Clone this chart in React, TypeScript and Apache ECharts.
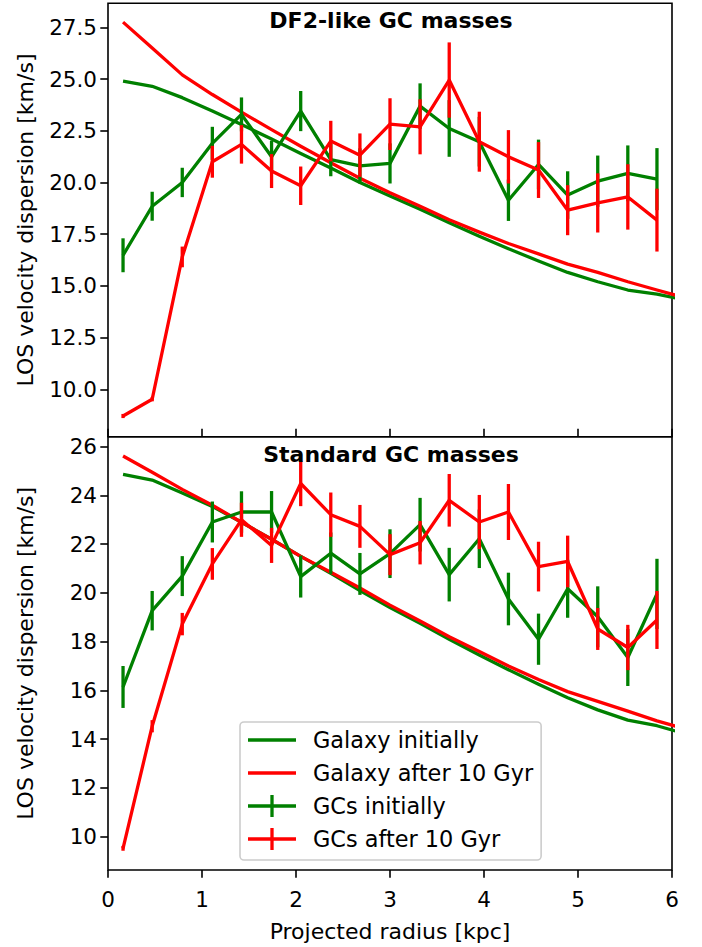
import React, { useEffect, useRef } from "react";
import * as echarts from "echarts";

const FONT = "DejaVu Sans";
const GREEN = "#008000";
const RED = "#ff0000";

// Radii of the GC bins [kpc]
const binRadii = [0.16, 0.47, 0.79, 1.11, 1.42, 1.74, 2.05, 2.37, 2.68, 3.0, 3.32, 3.63, 3.95, 4.26, 4.58, 4.89, 5.21, 5.53, 5.84];
// Radii of the galaxy profile points [kpc]
const galaxyRadii = [0.16, 0.47, 0.79, 1.11, 1.42, 1.74, 2.05, 2.37, 2.68, 3.0, 3.32, 3.63, 3.95, 4.26, 4.58, 4.89, 5.21, 5.53, 5.84, 6.16];

// Top panel: DF2-like GC masses
const topGalaxyInitial = [24.9, 24.65, 24.1, 23.45, 22.8, 22.1, 21.4, 20.7, 20.0, 19.35, 18.7, 18.05, 17.4, 16.8, 16.2, 15.65, 15.2, 14.8, 14.6, 14.3];
const topGalaxyAfter = [27.75, 26.5, 25.2, 24.25, 23.4, 22.55, 21.75, 20.95, 20.2, 19.5, 18.85, 18.2, 17.6, 17.05, 16.55, 16.05, 15.65, 15.2, 14.8, 14.4];
const topGCInitial = [16.48, 18.85, 20.0, 21.89, 23.29, 21.24, 23.45, 21.1, 20.8, 20.92, 23.69, 22.61, 21.97, 19.14, 20.87, 19.39, 20.06, 20.44, 20.16];
const topGCInitialErr = [0.82, 0.7, 0.71, 0.8, 0.82, 0.78, 0.97, 0.8, 0.85, 0.97, 1.1, 1.37, 1.2, 1.0, 1.2, 1.15, 1.24, 1.35, 1.5];
const topGCAfter = [8.71, 9.52, 16.4, 21.0, 21.84, 20.55, 19.84, 22.0, 21.32, 22.82, 22.69, 24.95, 21.97, 21.24, 20.6, 18.66, 19.01, 19.3, 18.18];
const topGCAfterErr = [0.1, 0.1, 0.5, 0.77, 0.93, 0.82, 0.93, 0.98, 1.05, 1.25, 1.33, 1.82, 1.45, 1.29, 1.35, 1.21, 1.43, 1.58, 1.52];

// Bottom panel: standard GC masses
const bottomGalaxyInitial = [24.86, 24.63, 24.1, 23.55, 22.9, 22.2, 21.5, 20.8, 20.1, 19.4, 18.75, 18.1, 17.45, 16.85, 16.25, 15.7, 15.2, 14.78, 14.55, 14.2];
const bottomGalaxyAfter = [25.62, 24.95, 24.25, 23.6, 22.9, 22.2, 21.5, 20.85, 20.2, 19.5, 18.85, 18.2, 17.6, 17.0, 16.45, 15.95, 15.55, 15.15, 14.75, 14.4];
const bottomGCInitial = [16.14, 19.27, 20.69, 22.91, 23.32, 23.32, 20.67, 21.63, 20.78, 21.61, 22.8, 20.75, 22.22, 19.75, 18.1, 20.17, 19.02, 17.35, 19.96];
const bottomGCInitialErr = [0.86, 0.81, 0.82, 0.84, 0.85, 0.86, 0.86, 0.85, 0.86, 1.0, 1.1, 1.1, 1.2, 1.08, 1.05, 1.19, 1.25, 1.17, 1.44];
const bottomGCAfter = [9.52, 14.53, 18.72, 21.19, 23.0, 21.95, 24.49, 23.21, 22.73, 21.57, 22.06, 23.8, 22.91, 23.32, 21.08, 21.29, 18.52, 17.76, 18.89];
const bottomGCAfterErr = [0.1, 0.25, 0.46, 0.65, 0.7, 0.72, 0.93, 0.91, 0.88, 0.84, 0.89, 1.08, 1.11, 1.15, 1.02, 1.06, 0.86, 0.93, 1.19];

// Axes
const xTicks = [0, 1, 2, 3, 4, 5, 6];
const xRange = [0, 6];
const topYTicks = [10, 12.5, 15, 17.5, 20, 22.5, 25, 27.5];
const topYRange = [7.71, 28.66];
const bottomYTicks = [10, 12, 14, 16, 18, 20, 22, 24, 26];
const bottomYRange = [8.63, 26.41];

const titles = ["DF2-like GC masses", "Standard GC masses"];
const legendNames = ["Galaxy initially", "Galaxy after 10 Gyr", "GCs initially", "GCs after 10 Gyr"];
const yName = "LOS velocity dispersion [km/s]";
const xName = "Projected radius [kpc]";

const LW = 3.3;
const AX = 1.6;
const LINE_ICON = "path://M0,0M0,9.35h48v3.3h-48zM48,22";
const ERR_ICON = "path://M0,9.35h48v3.3h-48zM22.35,0h3.3v22h-3.3z";

function lineSeries(name: string, xs: number[], ys: number[], color: string, g: number, z: number) {
  return {
    type: "line",
    name,
    xAxisIndex: g,
    yAxisIndex: g,
    data: xs.map((x, i) => [x, ys[i]]),
    showSymbol: false,
    symbol: "none",
    color,
    itemStyle: { color },
    lineStyle: { color, width: LW, join: "round" },
    clip: true,
    silent: true,
    z,
  };
}

function errSeries(name: string, xs: number[], ys: number[], errs: number[], color: string, g: number, z: number) {
  return {
    type: "custom",
    name,
    xAxisIndex: g,
    yAxisIndex: g,
    data: xs.map((x, i) => [x, ys[i], errs[i]]),
    encode: { x: 0, y: 1 },
    color,
    itemStyle: { color },
    silent: true,
    z,
    renderItem: (_params: any, api: any) => {
      const x = api.value(0);
      const y = api.value(1);
      const e = api.value(2);
      const p1 = api.coord([x, y + e]);
      const p2 = api.coord([x, y - e]);
      return {
        type: "line",
        shape: { x1: p1[0], y1: p1[1], x2: p2[0], y2: p2[1] },
        style: { stroke: color, lineWidth: LW },
      };
    },
  };
}

function yAxis(g: number, range: number[], ticks: number[], fmt: (v: number) => string) {
  return {
    type: "value",
    gridIndex: g,
    min: range[0],
    max: range[1],
    axisLine: { show: false },
    splitLine: { show: false },
    axisTick: { show: true, length: 7.7, lineStyle: { color: "#000", width: AX }, customValues: ticks },
    axisLabel: {
      customValues: ticks,
      formatter: fmt,
      fontFamily: FONT,
      fontSize: 21.5,
      color: "#000",
      margin: 11,
    },
    name: yName,
    nameLocation: "middle",
    nameGap: 72,
    nameTextStyle: { fontFamily: FONT, fontSize: 22, color: "#000" },
  };
}

export default function App() {
  const ref = useRef<HTMLDivElement>(null);
  useEffect(() => {
    if (!ref.current) return;
    const chart = echarts.init(ref.current, null, { renderer: "svg" });
    const gridCommon = {
      left: 108,
      width: 564,
      show: true,
      borderColor: "#000",
      borderWidth: AX,
      backgroundColor: "transparent",
      containLabel: false,
      outerBoundsMode: "none",
    };
    const titleStyle = { fontFamily: FONT, fontSize: 22, fontWeight: "bold", color: "#000" };
    const option: any = {
      animation: false,
      backgroundColor: "#fff",
      textStyle: { fontFamily: FONT },
      title: [
        { text: titles[0], left: 386, top: 4.8, textAlign: "center", textStyle: titleStyle },
        { text: titles[1], left: 386, top: 438.5, textAlign: "center", textStyle: titleStyle },
      ],
      grid: [
        { ...gridCommon, top: 3.3, height: 433.4 },
        { ...gridCommon, top: 436.7, height: 433.3 },
      ],
      xAxis: [
        {
          type: "value",
          gridIndex: 0,
          min: xRange[0],
          max: xRange[1],
          axisLine: { show: false },
          splitLine: { show: false },
          axisTick: { show: true, inside: true, length: 8, lineStyle: { color: "#000", width: AX }, customValues: xTicks },
          axisLabel: { show: false },
        },
        {
          type: "value",
          gridIndex: 1,
          min: xRange[0],
          max: xRange[1],
          axisLine: { show: false },
          splitLine: { show: false },
          axisTick: { show: true, length: 7.7, lineStyle: { color: "#000", width: AX }, customValues: xTicks },
          axisLabel: {
            customValues: xTicks,
            fontFamily: FONT,
            fontSize: 21.5,
            color: "#000",
            margin: 18,
          },
          name: xName,
          nameLocation: "middle",
          nameGap: 50,
          nameTextStyle: { fontFamily: FONT, fontSize: 22, color: "#000" },
        },
      ],
      yAxis: [
        yAxis(0, topYRange, topYTicks, (v: number) => v.toFixed(1)),
        yAxis(1, bottomYRange, bottomYTicks, (v: number) => String(v)),
      ],
      legend: {
        orient: "vertical",
        left: 240,
        top: 722,
        padding: [7, 8, 10, 8],
        itemGap: 11,
        itemWidth: 48,
        itemHeight: 22,
        selectedMode: false,
        backgroundColor: "#fff",
        borderColor: "#cccccc",
        borderWidth: 1.6,
        borderRadius: 4,
        textStyle: { fontFamily: FONT, fontSize: 22.4, color: "#000", padding: [0, 0, 0, 12] },
        data: [
          { name: legendNames[0], icon: LINE_ICON, itemStyle: { color: GREEN, borderWidth: 0 } },
          { name: legendNames[1], icon: LINE_ICON, itemStyle: { color: RED, borderWidth: 0 } },
          { name: legendNames[2], icon: ERR_ICON, itemStyle: { color: GREEN, borderWidth: 0 } },
          { name: legendNames[3], icon: ERR_ICON, itemStyle: { color: RED, borderWidth: 0 } },
        ],
        z: 20,
      },
      series: [
        lineSeries(legendNames[0], galaxyRadii, topGalaxyInitial, GREEN, 0, 2),
        lineSeries(legendNames[1], galaxyRadii, topGalaxyAfter, RED, 0, 3),
        lineSeries(legendNames[2], binRadii, topGCInitial, GREEN, 0, 4),
        errSeries(legendNames[2], binRadii, topGCInitial, topGCInitialErr, GREEN, 0, 4),
        lineSeries(legendNames[3], binRadii, topGCAfter, RED, 0, 5),
        errSeries(legendNames[3], binRadii, topGCAfter, topGCAfterErr, RED, 0, 5),

        lineSeries(legendNames[0], galaxyRadii, bottomGalaxyInitial, GREEN, 1, 2),
        lineSeries(legendNames[1], galaxyRadii, bottomGalaxyAfter, RED, 1, 3),
        lineSeries(legendNames[2], binRadii, bottomGCInitial, GREEN, 1, 4),
        errSeries(legendNames[2], binRadii, bottomGCInitial, bottomGCInitialErr, GREEN, 1, 4),
        lineSeries(legendNames[3], binRadii, bottomGCAfter, RED, 1, 5),
        errSeries(legendNames[3], binRadii, bottomGCAfter, bottomGCAfterErr, RED, 1, 5),
      ],
    };
    chart.setOption(option);
    return () => chart.dispose();
  }, []);
  return (
    <div
      ref={ref}
      style={{ position: "absolute", left: 0, top: 0, width: 702, height: 947, background: "#fff" }}
    />
  );
}
